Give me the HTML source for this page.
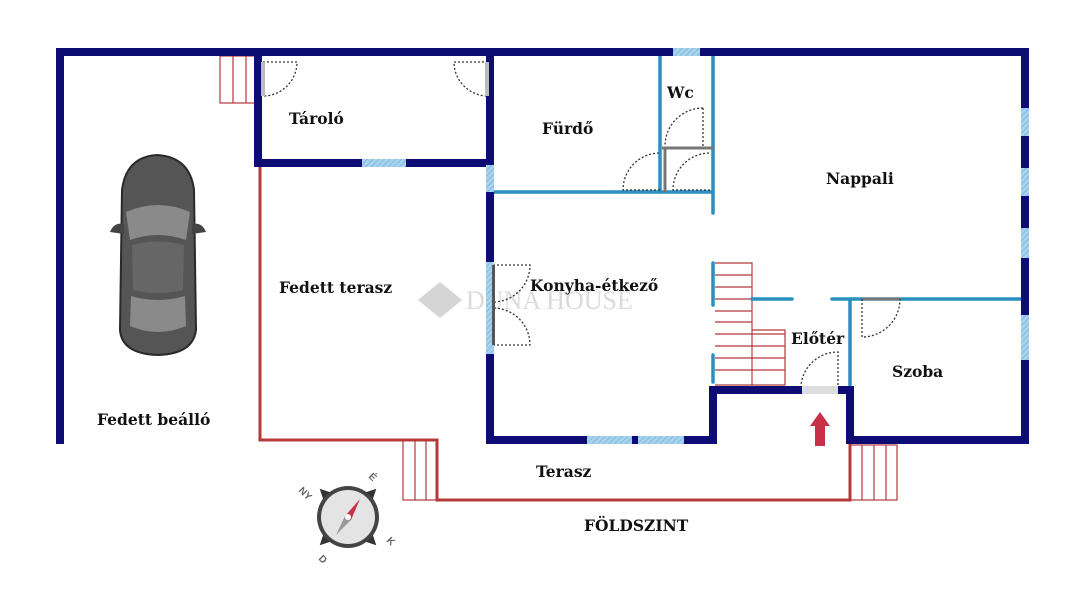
<!DOCTYPE html>
<html><head><meta charset="utf-8"><style>
html,body{margin:0;padding:0;background:#fff}
svg{display:block}
text{font-family:"DejaVu Serif","Liberation Serif",serif;font-weight:bold;font-size:15.5px;fill:#111}
</style></head><body>
<svg width="1072" height="600" viewBox="0 0 1072 600">
<defs>
<pattern id="h" width="4" height="4" patternUnits="userSpaceOnUse" patternTransform="rotate(45)">
<rect width="4" height="4" fill="#a9d3ec"/><line x1="0" y1="0" x2="0" y2="4" stroke="#6fb3dc" stroke-width="1.5"/></pattern>
</defs>
<!-- watermark -->
<g opacity="0.35">
<path d="M440 282 L462 300 L440 318 L418 300Z" fill="#888"/>
<text x="466" y="309" style="font-family:'Liberation Serif',serif;font-size:26px;font-weight:normal;fill:#999">DUNA HOUSE</text>
</g>
<!-- red walls -->
<g stroke="#b5393a" stroke-width="3" fill="none">
<path d="M260 163 V440 H437 V500 H850 V440"/>
</g>
<g stroke="#b5393a" stroke-width="1.2" fill="none">
<rect x="220" y="56" width="38" height="47"/><line x1="233" y1="56" x2="233" y2="103"/><line x1="246" y1="56" x2="246" y2="103"/>
<rect x="403" y="440" width="34" height="60"/><line x1="415" y1="440" x2="415" y2="500"/><line x1="426" y1="440" x2="426" y2="500"/>
<rect x="850" y="445" width="47" height="55"/><line x1="862" y1="445" x2="862" y2="500"/><line x1="874" y1="445" x2="874" y2="500"/><line x1="886" y1="445" x2="886" y2="500"/>
<path d="M715 263 H752 V330 H785 V385 H715"/>
<line x1="752" y1="330" x2="752" y2="385"/>
<g>
<line x1="715" y1="275" x2="752" y2="275"/><line x1="715" y1="287" x2="752" y2="287"/><line x1="715" y1="299" x2="752" y2="299"/><line x1="715" y1="311" x2="752" y2="311"/><line x1="715" y1="322" x2="752" y2="322"/><line x1="715" y1="334" x2="785" y2="334"/><line x1="715" y1="346" x2="785" y2="346"/><line x1="715" y1="358" x2="785" y2="358"/><line x1="715" y1="370" x2="785" y2="370"/>
</g>
</g>
<!-- thin blue walls -->
<g stroke="#2a8fc0" stroke-width="3.5" fill="none" stroke-linecap="round">
<path d="M490 192 H713"/><path d="M660 52 V192"/><path d="M713 52 V213"/>
<path d="M713 263 V305"/><path d="M713 355 V382"/>
<path d="M752 299 H792"/><path d="M832 299 H1025"/><path d="M850 299 V385"/>
</g>
<g stroke="#777" stroke-width="3" fill="none">
<path d="M662 148 H713"/><path d="M665 148 V192"/><path d="M862 299 H900"/>
</g>
<!-- doors dotted -->
<g stroke="#333" stroke-width="1.3" stroke-dasharray="2,2" fill="none">
<path d="M263 62 H297 A34 34 0 0 1 263 96"/>
<path d="M488 62 H454 A34 34 0 0 0 488 96"/>
<path d="M703 108 V146 M703 108 A38 38 0 0 0 665 146"/>
<path d="M660 190 H623 A37 37 0 0 1 660 153"/>
<path d="M710 190 H673 A37 37 0 0 1 710 153"/>
<path d="M493 265 H530 A37 37 0 0 1 493 302"/>
<path d="M493 345 H530 A37 37 0 0 0 493 308"/>
<path d="M838 385 V352 A37 37 0 0 0 801 385"/>
<path d="M862 299 V337 A38 38 0 0 0 900 299"/>
</g>
<!-- navy walls -->
<g stroke="#0c0c72" stroke-width="8" fill="none" stroke-linecap="square">
<path d="M60 440 V52 H1025 V440 H850 V390 H713 V440 H490 V52"/>
<path d="M258 52 V163 H490"/>
</g>
<!-- windows -->
<g fill="url(#h)">
<rect x="673" y="48" width="27" height="8"/>
<rect x="362" y="159" width="44" height="8"/>
<rect x="486" y="165" width="8" height="27"/>
<rect x="486" y="262" width="8" height="92"/>
<rect x="587" y="436" width="45" height="8"/>
<rect x="638" y="436" width="46" height="8"/>
<rect x="1021" y="108" width="8" height="28"/>
<rect x="1021" y="168" width="8" height="28"/>
<rect x="1021" y="228" width="8" height="30"/>
<rect x="1021" y="315" width="8" height="45"/>
</g>
<rect x="802" y="386" width="36" height="8" fill="#ddd"/>
<rect x="261" y="62" width="4" height="34" fill="#bbb"/><rect x="485" y="62" width="4" height="34" fill="#bbb"/>
<rect x="492" y="265" width="3" height="80" fill="#555"/>
<!-- car -->
<g>
<path d="M122 190 Q126 157 157 155 Q190 157 194 190 L196 330 Q193 354 158 355 Q122 354 120 330Z" fill="#555" stroke="#2a2a2a" stroke-width="2"/>
<path d="M126 212 Q158 198 190 212 L186 240 Q158 230 130 240Z" fill="#8a8a8a"/>
<path d="M132 245 Q158 238 184 245 L183 290 Q158 296 133 290Z" fill="#666"/>
<path d="M131 296 Q158 304 185 296 L186 326 Q158 338 130 326Z" fill="#8a8a8a"/>
<path d="M110 232 q4 -10 14 -8 v10z M206 232 q-4 -10 -14 -8 v10z" fill="#444"/>
</g>
<!-- arrow -->
<path d="M820 412 L830 426 H825 V446 H815 V426 H810Z" fill="#c8304a"/>
<!-- compass -->
<g transform="translate(348,517)">
<path d="M0 -40 L6 -28 L-6 -28Z M40 0 L28 6 L28 -6Z M0 40 L6 28 L-6 28Z M-40 0 L-28 6 L-28 -6Z" fill="#333" transform="rotate(45)"/>
<circle r="31" fill="#444"/><circle r="27" fill="#e4e4e4"/>
<path d="M12 -18 L3 3 L-3 -1Z" fill="#c8304a"/>
<path d="M-12 18 L3 3 L-3 -1Z" fill="#999"/>
<circle r="3" fill="#fff"/>
<g style="font-family:'Liberation Sans',sans-serif;font-size:10px;fill:#666">
<text x="-50" y="-26" transform="rotate(45 -50 -26)" style="font-family:'Liberation Sans',sans-serif;font-size:10px;fill:#666">NY</text>
<text x="20" y="-40" transform="rotate(45 20 -40)" style="font-family:'Liberation Sans',sans-serif;font-size:10px;fill:#666">É</text>
<text x="38" y="24" transform="rotate(45 38 24)" style="font-family:'Liberation Sans',sans-serif;font-size:10px;fill:#666">K</text>
<text x="-30" y="42" transform="rotate(45 -30 42)" style="font-family:'Liberation Sans',sans-serif;font-size:10px;fill:#666">D</text>
</g>
</g>
<!-- labels -->
<text x="289" y="124">Tároló</text>
<text x="542" y="134">Fürdő</text>
<text x="667" y="98">Wc</text>
<text x="826" y="184">Nappali</text>
<text x="279" y="293">Fedett terasz</text>
<text x="530" y="291">Konyha-étkező</text>
<text x="791" y="344">Előtér</text>
<text x="892" y="377">Szoba</text>
<text x="97" y="425">Fedett beálló</text>
<text x="536" y="477">Terasz</text>
<text x="584" y="531">FÖLDSZINT</text>
</svg>
</body></html>
